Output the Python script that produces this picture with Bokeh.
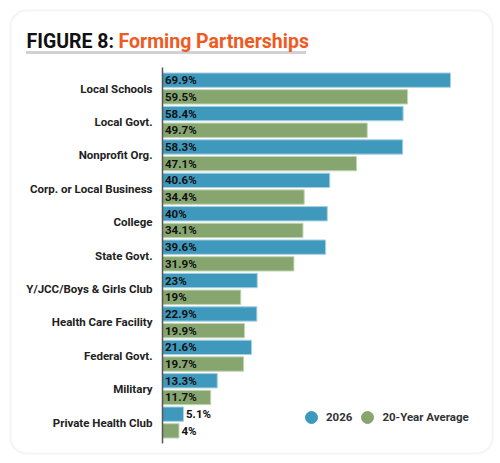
from bokeh.plotting import figure
from bokeh.models import Range1d, ColumnDataSource, Label, BoxAnnotation, Legend, LegendItem
from bokeh.core.properties import value
from bokeh.embed import file_html
from bokeh.resources import INLINE

# ---- data ----
categories = ["Local Schools", "Local Govt.", "Nonprofit Org.", "Corp. or Local Business",
              "College", "State Govt.", "Y/JCC/Boys & Girls Club", "Health Care Facility",
              "Federal Govt.", "Military", "Private Health Club"]
values_2026 = [69.9, 58.4, 58.3, 40.6, 40, 39.6, 23, 22.9, 21.6, 13.3, 5.1]
values_avg = [59.5, 49.7, 47.1, 34.4, 34.1, 31.9, 19, 19.9, 19.7, 11.7, 4]
series_names = ["2026", "20-Year Average"]

# ---- layout constants ----
W, H = 496, 460
X0PX, XS = 162.0, 4.12      # pixel of value 0, pixels per unit
Y0PX, YS = 88.0, 33.4       # pixel of first category centre, pixels per category
BLUE, BLUE_EDGE = "#3f99bd", "#a9d1e3"
GREEN, GREEN_EDGE = "#87a56f", "#c4d6b6"
ORANGE = "#f05a22"
FONT = "Roboto"

def X(px):
    return (px - X0PX) / XS

def Y(py):
    return (py - Y0PX) / YS

p = figure(width=W, height=H, output_backend="svg", toolbar_location=None,
           x_range=Range1d(X(0), X(W)), y_range=Range1d(Y(H), Y(0)),
           x_axis_type=None, y_axis_type=None, min_border=0,
           outline_line_color=None, background_fill_color="white",
           border_fill_color="white")
p.grid.visible = False

n = len(categories)
idx = list(range(n))
fmt = lambda v: f"{v:g}%"

src1 = ColumnDataSource(dict(
    y=[i - 0.25 for i in idx], v=values_2026,
    tx=[0 if v >= 10 else v for v in values_2026],
    t=[fmt(v) for v in values_2026]))
src2 = ColumnDataSource(dict(
    y=[i + 0.25 for i in idx], v=values_avg,
    tx=[0 if v >= 10 else v for v in values_avg],
    t=[fmt(v) for v in values_avg]))

p.hbar(y="y", left=0, right="v", height=0.43, source=src1,
       fill_color=BLUE, line_color=BLUE_EDGE, line_width=1)
p.hbar(y="y", left=0, right="v", height=0.43, source=src2,
       fill_color=GREEN, line_color=GREEN_EDGE, line_width=1)

for s in (src1, src2):
    p.text(x="tx", y="y", text="t", source=s, x_offset=2.5,
           text_font=value(FONT), text_font_style="bold", text_font_size="11.5px",
           text_color="#111111", text_baseline="middle", text_align="left")

# category labels
csrc = ColumnDataSource(dict(y=idx, x=[0] * n, t=categories))
p.text(x="x", y="y", text="t", source=csrc, x_offset=-10,
       text_font=value(FONT), text_font_style="bold", text_font_size="11.5px",
       text_color="#222222", text_baseline="middle", text_align="right")

# axis line
p.segment(x0=[0], x1=[0], y0=[Y(67)], y1=[Y(443)], line_color="#555555", line_width=1.5)

# card
card = BoxAnnotation(left=X(10), right=X(492), top=Y(10), bottom=Y(453),
                     fill_color=None, line_color="#dcdcdc", line_width=2,
                     border_radius=16, level="underlay")
p.add_layout(card)

# title
p.add_layout(Label(x=X(26), y=Y(41), text="FIGURE 8:", text_font=FONT,
                   text_font_style="bold", text_font_size="19.5px",
                   text_color="#111111", text_baseline="alphabetic"))
p.add_layout(Label(x=X(118), y=Y(41), text="Forming Partnerships", text_font=FONT,
                   text_font_style="bold", text_font_size="19.5px",
                   text_color=ORANGE, text_baseline="alphabetic"))
p.line(x=[X(26), X(305)], y=[Y(52), Y(52)], line_color="#a5a5a5",
       line_width=3, line_dash="1 1")

# legend
nan = float("nan")
r1 = p.scatter(x=[nan], y=[nan], marker="circle", fill_color=BLUE, line_color=BLUE)
r2 = p.scatter(x=[nan], y=[nan], marker="circle", fill_color=GREEN, line_color=GREEN)
legend = Legend(items=[LegendItem(label=series_names[0], renderers=[r1]),
                       LegendItem(label=series_names[1], renderers=[r2])],
                orientation="horizontal", location=(296, H - 432),
                glyph_width=30, glyph_height=30, label_standoff=-3, spacing=0,
                padding=0, margin=0, border_line_color=None,
                background_fill_alpha=0,
                label_text_font=FONT, label_text_font_style="bold",
                label_text_font_size="11.5px", label_text_color="#333333")
p.add_layout(legend)

open("out.html", "w").write(file_html(p, INLINE))
